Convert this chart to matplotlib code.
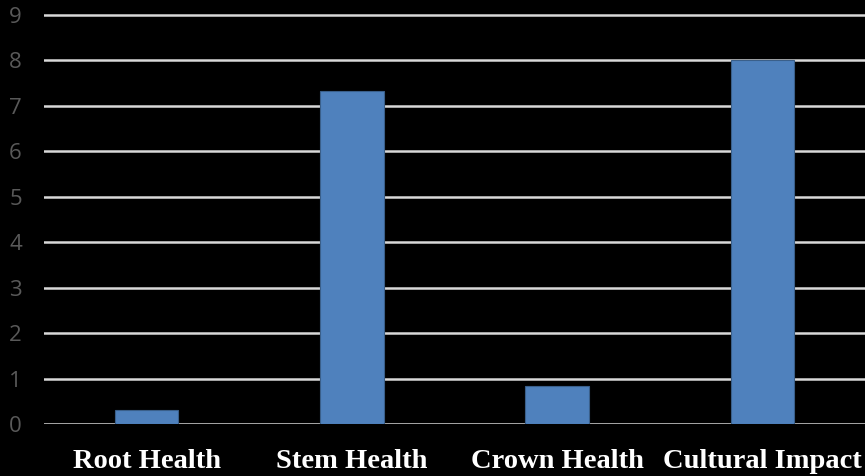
import matplotlib
matplotlib.use("Agg")
import matplotlib.pyplot as plt

categories = ["Root Health", "Stem Health", "Crown Health", "Cultural Impact"]
values = [0.3, 7.33, 0.84, 8.0]
y_ticks = [0, 1, 2, 3, 4, 5, 6, 7, 8, 9]

W, H = 865, 476
fig = plt.figure(figsize=(W / 100, H / 100), dpi=100, facecolor="black")
top_val = 9.05
px_per_unit = (424 - 15) / 9
ax = fig.add_axes([44 / W, 1 - 424 / H, 1 - 44 / W, (top_val * px_per_unit) / H])
ax.set_facecolor("black")

x = range(len(categories))
ax.bar(x, values, width=0.31, color="#4f81bd", edgecolor="#3a5f8a",
       linewidth=0.8, zorder=3)

ax.set_xlim(-0.5, len(categories) - 0.5)
ax.set_ylim(0, top_val)
ax.set_yticks(y_ticks)
ax.set_yticklabels([str(t) for t in y_ticks], color="#595959",
                   fontsize=16, family="Open Sans")
ax.set_xticks(list(x))
ax.set_xticklabels(categories, color="white", fontsize=20.5,
                   fontweight="bold", family="Liberation Serif")
ax.tick_params(axis="y", length=0, pad=16)
ax.tick_params(axis="x", length=0, pad=18)

for t in y_ticks:
    ax.axhline(t, color="#d9d9d9", linewidth=1.8, zorder=2)

for s in ax.spines.values():
    s.set_visible(False)

fig.savefig("out.png", dpi=100, facecolor="black")
